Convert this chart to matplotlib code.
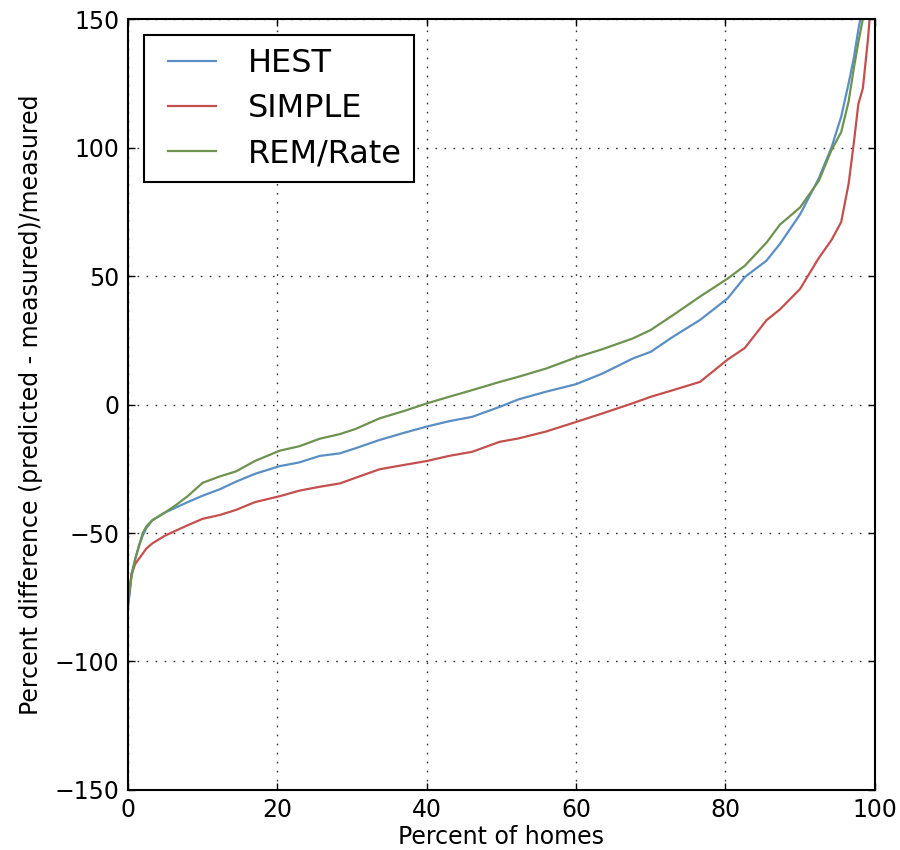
import matplotlib
matplotlib.use("Agg")
import matplotlib.pyplot as plt
from matplotlib.legend_handler import HandlerLine2D

# percent of homes (sorted rank)
pct = [0, 0.5, 1, 1.5, 2, 2.5, 3.3, 5, 6.5, 8, 10, 12.3, 14.5, 17, 20.3, 23,
       25.7, 28.4, 30.5, 33.7, 37, 40, 43, 46.1, 49.8, 52.3, 56, 60, 63.5,
       67.6, 70, 73, 76.6, 80.3, 82.6, 85.5, 87.3, 90, 92.5, 94.2, 95.5,
       96.5, 97.2, 97.8, 98.4, 99.1, 100]

hest = [-80, -66, -60, -55, -51, -48, -45, -42, -40, -38, -35.5, -33, -30,
        -27, -24, -22.5, -20, -19, -17, -13.8, -11, -8.6, -6.5, -4.8, -0.9,
        2, 5, 7.9, 12, 17.9, 20.5, 26.4, 32.9, 41.3, 49.6, 56, 62.5, 74, 88,
        100, 112, 125, 135, 146, 155, 175, 200]

simple = [-78, -66, -62, -60, -58, -56, -54, -51, -49, -47, -44.5, -43, -41,
          -38, -35.7, -33.5, -32, -30.7, -28.5, -25.2, -23.5, -22, -20,
          -18.4, -14.5, -13.2, -10.5, -6.8, -3.5, 0.5, 3, 5.6, 8.8, 17.5, 22,
          32.8, 37, 45, 57, 64, 71, 86, 102, 117, 123, 142.6, 175]

remrate = [-78, -67, -60, -55, -50, -47.4, -45, -42, -39, -35.7, -30.5, -28,
           -26, -22, -18, -16.2, -13.3, -11.5, -9.5, -5.4, -2.5, 0.4, 3, 5.6,
           8.8, 10.8, 14, 18.3, 21.5, 25.7, 29, 34.8, 42, 49, 54, 63, 70,
           76.7, 87, 99, 106, 118, 131, 141, 150, 165, 190]

series = [("HEST", hest, "#5a8ec4"),
          ("SIMPLE", simple, "#c4504e"),
          ("REM/Rate", remrate, "#6e9250")]

fig = plt.figure(figsize=(9, 8.5), dpi=100, facecolor="white")
ax = fig.add_axes([0.142, 0.0706, 0.830, 0.907])

for name, vals, col in series:
    ax.plot(pct, vals, color=col, lw=1.6, label=name)

ax.set_xlim(0, 100)
ax.set_ylim(-150, 150)
ax.set_xticks([0, 20, 40, 60, 80, 100])
ax.set_yticks([-150, -100, -50, 0, 50, 100, 150])
ax.grid(True, color="k", linestyle=(0, (1.2, 5.3)), linewidth=1.0, alpha=0.8)
ax.tick_params(direction="in", length=5, width=1, top=True, right=True,
               labelsize=17, pad=6)
for sp in ax.spines.values():
    sp.set_linewidth(1.5)

ax.set_xlabel("Percent of homes", fontsize=17, labelpad=2)
ax.set_ylabel("Percent difference (predicted - measured)/measured",
              fontsize=17, labelpad=8)

# xpad pushes the short handle lines away from the frame, like old mpl did
leg = ax.legend(loc="upper left", fontsize=23, handlelength=1.85,
                handletextpad=1.0, labelspacing=0.45, borderaxespad=0.5,
                fancybox=False, framealpha=1,
                handler_map={matplotlib.lines.Line2D: HandlerLine2D(xpad=0.35)})
leg.get_frame().set_edgecolor("black")
leg.get_frame().set_linewidth(1.5)

fig.savefig("out.png", dpi=100, facecolor="white")
